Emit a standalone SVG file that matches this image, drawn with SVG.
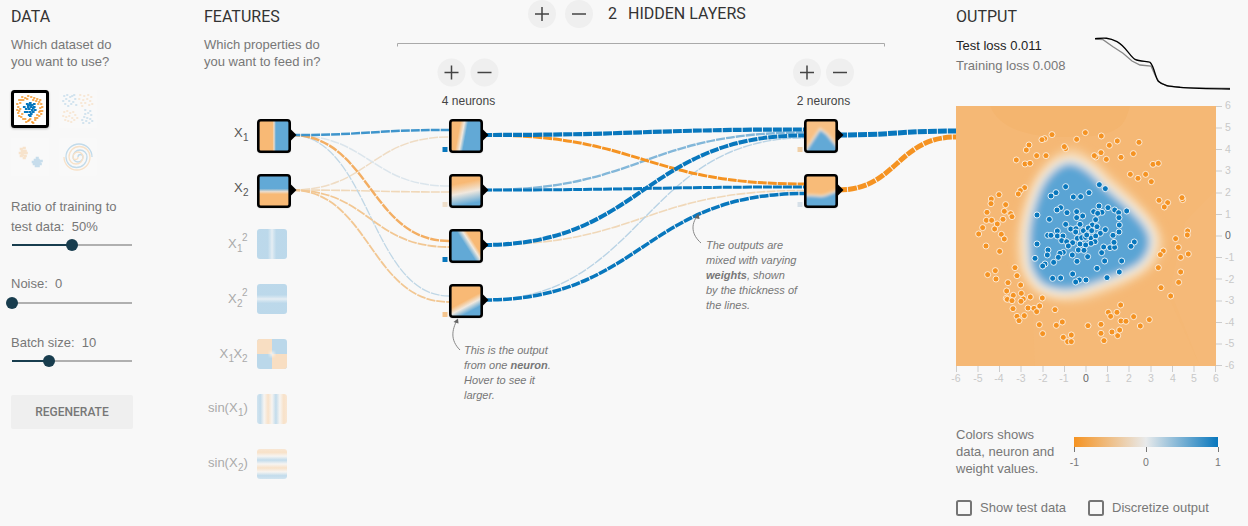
<svg xmlns="http://www.w3.org/2000/svg" width="1248" height="526" viewBox="0 0 1248 526">
<style>
text{font-family:"Liberation Sans",Arial,sans-serif;font-size:13px;fill:#777}
.h{font-family:Roboto,"Liberation Sans",sans-serif;font-size:16px;fill:#333}
.f{font-size:13px;fill:#aaa;text-anchor:start}
.fa{fill:#555}
.s{font-size:10px}
.n{font-size:12px;fill:#444;text-anchor:middle}
.note{font-size:11px;font-style:italic;fill:#777}
.ax{font-size:10.5px;fill:#c8c8c8}
.tick{stroke:#ccc;stroke-width:1}
.box{stroke:#000;stroke-width:2.6;fill:none}
.l{fill:none;stroke-dasharray:9 1}
.knob{fill:#183d4e}
.tr{stroke:#b0b0b0;stroke-width:2}
.on{stroke:#183d4e;stroke-width:2}
.btn{fill:#efefef}
.ic{stroke:#444;stroke-width:1.5;fill:none}
.cb{fill:none;stroke:#757575;stroke-width:2}
.o circle{fill:#f59322;stroke:#fff;stroke-opacity:.75;stroke-width:3;r:9px}
.b circle{fill:#0877bd;stroke:#fff;stroke-opacity:.85;stroke-width:3;r:9px}
.ann{fill:none;stroke:#888;stroke-width:1}
</style>
<defs>
<linearGradient id="gX1" x1="0" x2="1" y1="0" y2="0"><stop offset=".45" stop-color="#f8b974"/><stop offset=".5" stop-color="#ecdccb"/><stop offset=".56" stop-color="#62a9d6"/></linearGradient>
<linearGradient id="gX2" x1="0" x2="0" y1="0" y2="1"><stop offset=".42" stop-color="#62a9d6"/><stop offset=".52" stop-color="#ecdccb"/><stop offset=".6" stop-color="#f8b974"/></linearGradient>
<linearGradient id="gX1s" x1="0" x2="1" y1="0" y2="0"><stop offset=".36" stop-color="#62a9d6"/><stop offset=".46" stop-color="#a6cde6"/><stop offset=".5" stop-color="#ccdfec"/><stop offset=".54" stop-color="#a6cde6"/><stop offset=".64" stop-color="#62a9d6"/></linearGradient>
<linearGradient id="gX2s" x1="0" x2="0" y1="0" y2="1"><stop offset=".36" stop-color="#62a9d6"/><stop offset=".46" stop-color="#a6cde6"/><stop offset=".5" stop-color="#ccdfec"/><stop offset=".54" stop-color="#a6cde6"/><stop offset=".64" stop-color="#62a9d6"/></linearGradient>
<linearGradient id="gS1" x1="0" x2="1" y1="0" y2="0"><stop offset="0" stop-color="#8fc1e0"/><stop offset=".11" stop-color="#62a9d6"/><stop offset=".238" stop-color="#f4eee6"/><stop offset=".37" stop-color="#f8b974"/><stop offset=".5" stop-color="#f4eee6"/><stop offset=".63" stop-color="#62a9d6"/><stop offset=".762" stop-color="#f4eee6"/><stop offset=".89" stop-color="#f8b974"/><stop offset="1" stop-color="#f9c792"/></linearGradient>
<linearGradient id="gS2" x1="0" x2="0" y1="0" y2="1"><stop offset="0" stop-color="#f9c792"/><stop offset=".11" stop-color="#f8b974"/><stop offset=".238" stop-color="#f4eee6"/><stop offset=".37" stop-color="#62a9d6"/><stop offset=".5" stop-color="#f4eee6"/><stop offset=".63" stop-color="#f8b974"/><stop offset=".762" stop-color="#f4eee6"/><stop offset=".89" stop-color="#62a9d6"/><stop offset="1" stop-color="#8fc1e0"/></linearGradient>
<linearGradient id="gN1" gradientUnits="userSpaceOnUse" x1="456.1" y1="134.4" x2="467.9" y2="136.6"><stop offset=".15" stop-color="#f8b974"/><stop offset=".5" stop-color="#f0e8de"/><stop offset=".8" stop-color="#62a9d6"/></linearGradient>
<linearGradient id="gN2" gradientUnits="userSpaceOnUse" x1="463.6" y1="180" x2="468.4" y2="204"><stop offset=".1" stop-color="#f8b974"/><stop offset=".52" stop-color="#f0e8de"/><stop offset="1" stop-color="#62a9d6"/></linearGradient>
<linearGradient id="gN3" gradientUnits="userSpaceOnUse" x1="476.2" y1="244.3" x2="467.8" y2="249.7"><stop offset=".1" stop-color="#f8b974"/><stop offset=".45" stop-color="#f0e8de"/><stop offset=".95" stop-color="#62a9d6"/></linearGradient>
<linearGradient id="gN4" gradientUnits="userSpaceOnUse" x1="462.7" y1="300.3" x2="469.3" y2="312.7"><stop offset=".1" stop-color="#f8b974"/><stop offset=".5" stop-color="#f0e8de"/><stop offset=".95" stop-color="#62a9d6"/></linearGradient>
<linearGradient id="gBar"><stop offset="0" stop-color="#f59322"/><stop offset=".5" stop-color="#e8eaeb"/><stop offset="1" stop-color="#0877bd"/></linearGradient>
<filter id="sh" x="-20%" y="-20%" width="140%" height="140%"><feDropShadow dx="0" dy="1" stdDeviation="1" flood-color="#000" flood-opacity=".25"/></filter>
<filter id="bl1" x="-20%" y="-20%" width="140%" height="140%"><feGaussianBlur stdDeviation="1.6"/></filter>
<filter id="bl3" x="-20%" y="-20%" width="140%" height="140%"><feGaussianBlur stdDeviation="4.5"/></filter>
<clipPath id="cA"><rect x="805" y="120" width="32" height="32" rx="2"/></clipPath>
<clipPath id="cB"><rect x="805" y="175" width="32" height="32" rx="2"/></clipPath>
<clipPath id="cO"><rect x="956" y="106" width="260" height="260"/></clipPath>
<path id="tri" d="M0-5.500 5.500 0 0 5.500z" fill="#000"/>
<path id="spiral" d="M78 157A2.500 2.500 0 0 1 83 157A5 5 0 0 1 73 157A7 7 0 0 1 87 157A10.500 10.500 0 0 1 66 157A13 13 0 0 1 92 157" fill="none"/>
</defs>
<rect width="1248" height="526" fill="#f8f8f8"/>

<g id="data-panel">
<text class="h" x="11" y="22">DATA</text>
<text x="11" y="49">Which dataset do</text>
<text x="11" y="66">you want to use?</text>
</g>
<g id="dataset-circle">
<rect x="12.500" y="91.500" width="35" height="35" rx="2" fill="#fff" stroke="#000" stroke-width="3" filter="url(#sh)"/>
<path fill="none" stroke="#f59322" stroke-width="1.700" stroke-linecap="square" d="M19 100h.5M22 97h.5M25 98h.5M28 96h.5M31 97h.5M34 98h.5M37 99h.5M39 102h.5M41 104h.5M42 107h.5M40 108h.5M42 111h.5M41 114h.5M39 116h.5M37 118h.5M35 120h.5M32 122h.5M29 120h.5M26 122h.5M23 119h.5M21 117h.5M19 116h.5M18 113h.5M17 110h.5M18 107h.5M17 104h.5M20 103h.5M23 100h.5M27 99h.5M33 100h.5M38 104h.5M39 112h.5M35 118h.5M30 119h.5M22 114h.5M20 109h.5M25 119h.5M37 115h.5M40 100h.5M33 123h.5M21 100h.5M36 101h.5M40 111h.5M19 111h.5M28 121h.5"/>
<path fill="none" stroke="#0877bd" stroke-width="2.200" stroke-linecap="square" d="M27 104h.5M30 103h.5M32 105h.5M28 107h.5M31 107h.5M34 107h.5M26 109h.5M29 109h.5M32 110h.5M35 110h.5M27 112h.5M30 112h.5M33 112h.5M29 115h.5M31 114h.5M24 107h.5M34 104h.5M30 116h.5M25 112h.5M28 105h.5M33 108h.5M30 105h.5"/>
</g>
<g id="dataset-xor" opacity=".2">
<rect x="59" y="90" width="38" height="38" rx="2" fill="#fff"/>
<path fill="none" stroke="#0877bd" stroke-width="1.600" stroke-linecap="square" d="M64 96h.5M67 95h.5M70 97h.5M66 99h.5M72 96h.5M75 99h.5M63 101h.5M69 101h.5M74 95h.5M65 104h.5M71 104h.5M68 106h.5M73 102h.5M76 105h.5M85 114h.5M88 113h.5M91 115h.5M84 117h.5M87 118h.5M90 119h.5M82 120h.5M86 121h.5M92 121h.5M89 123h.5M83 123h.5M85 110h.5M90 111h.5"/>
<path fill="none" stroke="#f59322" stroke-width="1.600" stroke-linecap="square" d="M80 95h.5M84 96h.5M88 95h.5M91 97h.5M79 99h.5M83 100h.5M87 99h.5M90 101h.5M81 103h.5M85 103h.5M89 105h.5M82 106h.5M92 104h.5M64 112h.5M67 111h.5M70 113h.5M73 112h.5M63 116h.5M66 117h.5M69 116h.5M72 118h.5M75 115h.5M65 120h.5M68 121h.5M71 122h.5M74 120h.5M77 118h.5"/>
</g>
<g id="dataset-gauss" opacity=".2">
<rect x="11" y="138" width="38" height="38" rx="2" fill="#fff"/>
<path fill="none" stroke="#f59322" stroke-width="2.600" stroke-linecap="square" d="M21 149h.5M24 148h.5M22 151h.5M25 151h.5M20 153h.5M23 153h.5M26 153h.5M22 155h.5M25 156h.5M24 158h.5M21 156h.5"/>
<path fill="none" stroke="#0877bd" stroke-width="2.600" stroke-linecap="square" d="M37 158h.5M35 160h.5M38 160h.5M33 162h.5M36 162h.5M39 162h.5M41 161h.5M34 164h.5M37 164h.5M40 164h.5M36 166h.5M38 166h.5"/>
</g>
<g id="dataset-spiral" opacity=".22" stroke-width="1.300">
<rect x="59" y="138" width="38" height="38" rx="2" fill="#fff"/>
<use href="#spiral" stroke="#0877bd"/>
<use href="#spiral" stroke="#f59322" transform="rotate(180 78 157)"/>
</g>

<g id="ratio-slider">
<text x="11" y="211">Ratio of training to</text>
<text x="11" y="231" xml:space="preserve">test data:  50%</text>
<path class="tr" d="M12 245h120"/><path class="on" d="M12 245h60"/><circle class="knob" cx="72" cy="245" r="6"/>
</g>
<g id="noise-slider">
<text x="11" y="288" xml:space="preserve">Noise:  0</text>
<path class="tr" d="M12 303h120"/><circle class="knob" cx="12" cy="303" r="6"/>
</g>
<g id="batch-slider">
<text x="11" y="347" xml:space="preserve">Batch size:  10</text>
<path class="tr" d="M12 361h120"/><path class="on" d="M12 361h37"/><circle class="knob" cx="49" cy="361" r="6"/>
</g>
<g id="regenerate">
<rect class="btn" x="11" y="395" width="122" height="34" rx="2"/>
<text x="72" y="416" text-anchor="middle" style="font-family:Roboto,sans-serif;font-size:12px;font-weight:500">REGENERATE</text>
</g>

<g id="features-title">
<text class="h" x="204" y="22">FEATURES</text>
<text x="204" y="49">Which properties do</text>
<text x="204" y="66">you want to feed in?</text>
</g>

<g id="layers-control">
<circle class="btn" cx="542" cy="14" r="14"/><path class="ic" d="M535 14h14M542 7v14"/>
<circle class="btn" cx="579" cy="14" r="14"/><path class="ic" d="M572 14h14"/>
<text class="h" x="608" y="19">2</text>
<text class="h" x="628" y="19">HIDDEN LAYERS</text>
<path fill="none" stroke="#aaa" d="M397.500 46.500v-3h487v3"/>
</g>
<g id="layer1-control">
<circle class="btn" cx="451.500" cy="72.500" r="14"/><path class="ic" d="M444.500 72.500h14M451.500 65.500v14"/>
<circle class="btn" cx="484.500" cy="72.500" r="14"/><path class="ic" d="M477.500 72.500h14"/>
<text class="n" x="468.500" y="105">4 neurons</text>
</g>
<g id="layer2-control">
<circle class="btn" cx="807" cy="72.500" r="14"/><path class="ic" d="M800 72.500h14M807 65.500v14"/>
<circle class="btn" cx="840" cy="72.500" r="14"/><path class="ic" d="M833 72.500h14"/>
<text class="n" x="823.500" y="105">2 neurons</text>
</g>

<g id="connectors">
<path class="l" stroke="#efdcc4" stroke-width="1.500" d="M291 190C370 190 370 137 449 137"/>
<path class="l" stroke="#dbe5ec" stroke-width="1.500" d="M291 135C370 135 370 186 449 186"/>
<path class="l" stroke="#f0d8b9" stroke-width="1.600" d="M291 190C370 190 370 192 449 192"/>
<path class="l" stroke="#c0d7e6" stroke-width="1.300" d="M291 135C370 135 370 296 449 296"/>
<path class="l" stroke="#f2c793" stroke-width="1.800" d="M291 190C370 190 370 302 449 302"/>
<path class="l" stroke="#f2c793" stroke-width="1.800" d="M291 190C370 190 370 247 449 247"/>
<path class="l" stroke="#f3ae63" stroke-width="2.400" d="M291 135C370 135 370 241 449 241"/>
<path class="l" stroke="#3f95cc" stroke-width="2.500" d="M291 135C370 135 370 130 449 130"/>
<path class="l" stroke="#f0d8b9" stroke-width="1.600" d="M483 245C643 245 643 190.500 804 190.500"/>
<path class="l" stroke="#b9d3e5" stroke-width="1.400" d="M483 300C643 300 643 138 804 138"/>
<path class="l" stroke="#83b7d9" stroke-width="2.400" d="M483 190C643 190 643 132.500 804 132.500"/>
<path class="l" stroke="#f59322" stroke-width="3" d="M483 135C643 135 643 184 804 184"/>
<path class="l" stroke="#0877bd" stroke-width="3" d="M483 190C643 190 643 187 804 187"/>
<path class="l" stroke="#0877bd" stroke-width="4" d="M483 245C643 245 643 135.500 804 135.500"/>
<path class="l" stroke="#0877bd" stroke-width="3.500" d="M483 300C643 300 643 193.500 804 193.500"/>
<path class="l" stroke="#0877bd" stroke-width="4.200" d="M483 135C643 135 643 129.500 804 129.500"/>
<path class="l" stroke="#f59322" stroke-width="5" d="M838 190C897 190 897 137 956 137"/>
<path class="l" stroke="#0877bd" stroke-width="5" d="M838 135C897 135 897 131 956 131"/>
</g>

<g id="feature-x1">
<text class="f fa" x="234" y="137">X<tspan class="s" x="243" y="141">1</tspan></text>
<rect x="258.300" y="120.300" width="31.400" height="31.400" rx="2.500" fill="url(#gX1)" filter="url(#sh)"/><rect class="box" x="258.300" y="120.300" width="31.400" height="31.400" rx="2.500"/>
<use href="#tri" x="291" y="135"/>
</g>
<g id="feature-x2">
<text class="f fa" x="234" y="192">X<tspan class="s" x="243" y="196">2</tspan></text>
<rect x="258.300" y="175.300" width="31.400" height="31.400" rx="2.500" fill="url(#gX2)" filter="url(#sh)"/><rect class="box" x="258.300" y="175.300" width="31.400" height="31.400" rx="2.500"/>
<use href="#tri" x="291" y="190"/>
</g>
<g id="feature-x1sq">
<text class="f" x="228" y="248">X<tspan class="s" x="237" y="252">1</tspan><tspan class="s" x="242" y="241">2</tspan></text>
<rect x="257" y="229" width="30" height="30" rx="3" fill="url(#gX1s)" opacity=".4"/>
</g>
<g id="feature-x2sq">
<text class="f" x="228" y="303">X<tspan class="s" x="237" y="307">2</tspan><tspan class="s" x="242" y="296">2</tspan></text>
<rect x="257" y="284" width="30" height="30" rx="3" fill="url(#gX2s)" opacity=".4"/>
</g>
<g id="feature-x1x2">
<text class="f" x="219.500" y="358">X<tspan class="s" x="228.500" y="362">1</tspan><tspan x="233.500" y="358">X</tspan><tspan class="s" x="242" y="362">2</tspan></text>
<g opacity=".4"><rect x="257" y="339" width="30" height="30" rx="3" fill="#62a9d6"/><path d="M260 339h12v15h-15v-12a3 3 0 0 1 3-3zM272 354h15v12a3 3 0 0 1-3 3h-12z" fill="#f8b974"/><circle cx="272" cy="354" r="2.500" fill="#f4eee6" filter="url(#bl1)"/></g>
</g>
<g id="feature-sinx1">
<text class="f" x="208" y="412">sin(X<tspan class="s" x="238" y="416">1</tspan><tspan x="243.500" y="412">)</tspan></text>
<rect x="257" y="394" width="30" height="30" rx="3" fill="url(#gS1)" opacity=".36"/>
</g>
<g id="feature-sinx2">
<text class="f" x="208" y="467">sin(X<tspan class="s" x="238" y="471">2</tspan><tspan x="243.500" y="467">)</tspan></text>
<rect x="257" y="449" width="30" height="30" rx="3" fill="url(#gS2)" opacity=".36"/>
</g>

<g id="neuron-1-1">
<rect x="442.500" y="147" width="5" height="5" fill="#0877bd"/>
<rect x="450.300" y="120.300" width="31.400" height="31.400" rx="2.500" fill="url(#gN1)" filter="url(#sh)"/><rect class="box" x="450.300" y="120.300" width="31.400" height="31.400" rx="2.500"/>
<use href="#tri" x="483" y="135"/>
</g>
<g id="neuron-1-2">
<rect x="442.500" y="202" width="5" height="5" fill="#efdfcb"/>
<rect x="450.300" y="175.300" width="31.400" height="31.400" rx="2.500" fill="url(#gN2)" filter="url(#sh)"/><rect class="box" x="450.300" y="175.300" width="31.400" height="31.400" rx="2.500"/>
<use href="#tri" x="483" y="190"/>
</g>
<g id="neuron-1-3">
<rect x="442.500" y="257" width="5" height="5" fill="#0877bd"/>
<rect x="450.300" y="230.300" width="31.400" height="31.400" rx="2.500" fill="url(#gN3)" filter="url(#sh)"/><rect class="box" x="450.300" y="230.300" width="31.400" height="31.400" rx="2.500"/>
<use href="#tri" x="483" y="245"/>
</g>
<g id="neuron-1-4">
<rect x="442.500" y="312" width="5" height="5" fill="#f5c58e"/>
<rect x="450.300" y="285.300" width="31.400" height="31.400" rx="2.500" fill="url(#gN4)" filter="url(#sh)"/><rect class="box" x="450.300" y="285.300" width="31.400" height="31.400" rx="2.500"/>
<use href="#tri" x="483" y="300"/>
</g>
<g id="neuron-2-1">
<rect x="797.500" y="147" width="5" height="5" fill="#f0cfa6"/>
<rect x="805.300" y="120.300" width="31.400" height="31.400" rx="2.500" fill="#f8c084" filter="url(#sh)"/>
<g clip-path="url(#cA)"><path d="M802 156 812 141 820 129 827 134 842 152V156z" fill="#62a9d6" stroke="#eee3d6" stroke-width="2" filter="url(#bl1)"/></g>
<rect class="box" x="805.300" y="120.300" width="31.400" height="31.400" rx="2.500"/>
<use href="#tri" x="838" y="135"/>
</g>
<g id="neuron-2-2">
<rect x="797.500" y="202" width="5" height="5" fill="#d6e0e8"/>
<rect x="805.300" y="175.300" width="31.400" height="31.400" rx="2.500" fill="#f8bb78" filter="url(#sh)"/>
<g clip-path="url(#cB)"><path d="M803 195C812 195 815 196 821 196S832 192 840 190V212H803z" fill="#62a9d6" stroke="#eee3d6" stroke-width="2" filter="url(#bl1)"/></g>
<rect class="box" x="805.300" y="175.300" width="31.400" height="31.400" rx="2.500"/>
<use href="#tri" x="838" y="190"/>
</g>

<g id="output-title">
<text class="h" x="956" y="22">OUTPUT</text>
<text x="956" y="50" style="fill:#222">Test loss 0.011</text>
<text x="956" y="70">Training loss 0.008</text>
<polyline fill="none" stroke="#888" stroke-width="1.300" points="1095,39 1103,39.700 1113,46.700 1123,53.300 1132,61 1140,65 1151,66 1155,75 1159,81.700 1167,86 1183,87.700 1230,88.300"/>
<path fill="none" stroke="#000" stroke-width="1.300" d="M1095 38.700C1103 38 1108 37 1117 41.700S1130 57 1135 59.300 1148 61 1150 62.300C1154 66 1155 76 1158 81 1163 86 1170 86.500 1180 87.300S1200 88.500 1230 89"/>
</g>

<g id="heatmap">
<rect x="956" y="106" width="260" height="260" fill="#f5b875"/>
<g clip-path="url(#cO)">
<path d="M990 106C1000 130 1030 138 1075 137S1125 125 1130 106z" fill="#f4b56f"/>
<path d="M1216 190 1185 222 1170 290 1200 366H1216z" fill="#f6bc7e" opacity=".4"/>
<path d="M1032 300 1035 366H1200L1170 300z" fill="#f6bb7b" opacity=".4"/>
<path d="M1075 148C1090 153 1105 170 1125 188 1145 208 1168 230 1163 250 1158 272 1125 288 1090 299 1060 307 1033 298 1022 276 1012 255 1015 225 1027 195 1037 165 1060 146 1075 148z" fill="#f6cf9f" filter="url(#bl3)"/>
<path d="M1072 160C1085 163 1095 172 1103 182L1127 203C1140 215 1152 227 1153 240 1153 252 1148 260 1138 268L1120 277 1090 288C1078 292 1070 293 1063 293 1050 292 1042 289 1037 283 1030 274 1027 266 1027 260L1026 240C1026 222 1031 205 1037 190 1042 178 1050 170 1055 166 1060 162 1066 160 1072 160z" fill="#5aa4d4" stroke="#f7f3ec" stroke-width="6" filter="url(#bl3)"/>
</g>
</g>

<g id="points">
<g class="o" transform="translate(940 0) scale(.3333)">
<circle cx="336" cy="404"/><circle cx="314" cy="416"/><circle cx="306" cy="419"/><circle cx="267" cy="435"/><circle cx="259" cy="450"/><circle cx="290" cy="467"/><circle cx="318" cy="467"/><circle cx="229" cy="480"/><circle cx="255" cy="492"/><circle cx="270" cy="490"/><circle cx="377" cy="446"/><circle cx="373" cy="440"/><circle cx="410" cy="418"/><circle cx="436" cy="398"/><circle cx="484" cy="408"/><circle cx="508" cy="436"/><circle cx="532" cy="423"/><circle cx="597" cy="427"/><circle cx="468" cy="471"/><circle cx="463" cy="467"/><circle cx="483" cy="458"/><circle cx="499" cy="478"/><circle cx="543" cy="472"/><circle cx="580" cy="461"/><circle cx="639" cy="493"/><circle cx="655" cy="490"/><circle cx="571" cy="523"/><circle cx="594" cy="535"/><circle cx="617" cy="523"/><circle cx="634" cy="545"/><circle cx="657" cy="601"/><circle cx="683" cy="608"/><circle cx="673" cy="621"/><circle cx="728" cy="599"/><circle cx="726" cy="593"/><circle cx="254" cy="563"/><circle cx="241" cy="572"/><circle cx="235" cy="582"/><circle cx="177" cy="584"/><circle cx="154" cy="597"/><circle cx="153" cy="611"/><circle cx="197" cy="614"/><circle cx="141" cy="637"/><circle cx="193" cy="634"/><circle cx="212" cy="641"/><circle cx="216" cy="650"/><circle cx="139" cy="661"/><circle cx="155" cy="661"/><circle cx="189" cy="658"/><circle cx="172" cy="672"/><circle cx="164" cy="687"/><circle cx="128" cy="683"/><circle cx="116" cy="702"/><circle cx="184" cy="703"/><circle cx="193" cy="717"/><circle cx="743" cy="693"/><circle cx="742" cy="705"/><circle cx="707" cy="716"/>
</g>
<g class="o" transform="translate(940 230) scale(.3333)">
<circle cx="138" cy="48"/><circle cx="179" cy="64"/><circle cx="715" cy="52"/><circle cx="670" cy="63"/><circle cx="661" cy="74"/><circle cx="722" cy="82"/><circle cx="745" cy="72"/><circle cx="225" cy="113"/><circle cx="166" cy="122"/><circle cx="143" cy="134"/><circle cx="168" cy="147"/><circle cx="231" cy="137"/><circle cx="204" cy="158"/><circle cx="242" cy="165"/><circle cx="200" cy="183"/><circle cx="244" cy="190"/><circle cx="220" cy="196"/><circle cx="199" cy="205"/><circle cx="202" cy="208"/><circle cx="250" cy="207"/><circle cx="243" cy="214"/><circle cx="216" cy="212"/><circle cx="271" cy="201"/><circle cx="307" cy="204"/><circle cx="219" cy="236"/><circle cx="264" cy="234"/><circle cx="282" cy="235"/><circle cx="299" cy="228"/><circle cx="290" cy="245"/><circle cx="345" cy="239"/><circle cx="231" cy="259"/><circle cx="253" cy="257"/><circle cx="237" cy="272"/><circle cx="298" cy="284"/><circle cx="349" cy="286"/><circle cx="367" cy="276"/><circle cx="308" cy="311"/><circle cx="370" cy="322"/><circle cx="394" cy="315"/><circle cx="383" cy="335"/><circle cx="394" cy="335"/><circle cx="444" cy="287"/><circle cx="483" cy="283"/><circle cx="483" cy="310"/><circle cx="492" cy="332"/><circle cx="516" cy="306"/><circle cx="533" cy="317"/><circle cx="539" cy="300"/><circle cx="505" cy="247"/><circle cx="512" cy="259"/><circle cx="531" cy="247"/><circle cx="542" cy="225"/><circle cx="543" cy="273"/><circle cx="558" cy="274"/><circle cx="581" cy="260"/><circle cx="601" cy="288"/><circle cx="628" cy="269"/><circle cx="655" cy="113"/><circle cx="722" cy="126"/><circle cx="716" cy="157"/><circle cx="663" cy="173"/><circle cx="692" cy="198"/>
</g>
<g class="b" transform="translate(1040 170) scale(.3333)">
<circle cx="-9" cy="135"/><circle cx="-15" cy="265"/><circle cx="-9" cy="222"/>
<circle cx="178" cy="44"/><circle cx="196" cy="56"/><circle cx="77" cy="50"/><circle cx="48" cy="68"/><circle cx="33" cy="78"/><circle cx="147" cy="68"/><circle cx="100" cy="81"/><circle cx="122" cy="80"/><circle cx="62" cy="113"/><circle cx="51" cy="120"/><circle cx="81" cy="128"/><circle cx="110" cy="125"/><circle cx="110" cy="143"/><circle cx="128" cy="138"/><circle cx="161" cy="125"/><circle cx="177" cy="108"/><circle cx="204" cy="113"/><circle cx="186" cy="127"/><circle cx="173" cy="130"/><circle cx="224" cy="120"/><circle cx="236" cy="128"/><circle cx="260" cy="123"/><circle cx="28" cy="148"/><circle cx="167" cy="149"/><circle cx="237" cy="143"/><circle cx="238" cy="165"/><circle cx="77" cy="163"/><circle cx="120" cy="163"/><circle cx="157" cy="165"/><circle cx="171" cy="170"/><circle cx="92" cy="177"/><circle cx="108" cy="176"/><circle cx="107" cy="186"/><circle cx="130" cy="182"/><circle cx="145" cy="174"/><circle cx="155" cy="182"/><circle cx="196" cy="179"/><circle cx="181" cy="190"/><circle cx="237" cy="186"/><circle cx="219" cy="196"/><circle cx="23" cy="196"/><circle cx="33" cy="196"/><circle cx="52" cy="183"/><circle cx="52" cy="198"/><circle cx="69" cy="198"/><circle cx="65" cy="212"/><circle cx="80" cy="215"/><circle cx="98" cy="218"/><circle cx="112" cy="205"/><circle cx="125" cy="203"/><circle cx="137" cy="202"/><circle cx="153" cy="204"/><circle cx="167" cy="198"/><circle cx="140" cy="195"/><circle cx="165" cy="215"/><circle cx="153" cy="220"/><circle cx="120" cy="222"/><circle cx="137" cy="225"/><circle cx="85" cy="228"/><circle cx="115" cy="240"/><circle cx="132" cy="241"/><circle cx="191" cy="231"/><circle cx="210" cy="233"/><circle cx="224" cy="232"/><circle cx="222" cy="217"/><circle cx="283" cy="216"/><circle cx="273" cy="229"/><circle cx="185" cy="248"/><circle cx="24" cy="240"/><circle cx="22" cy="255"/><circle cx="70" cy="247"/><circle cx="60" cy="250"/><circle cx="55" cy="262"/><circle cx="41" cy="277"/><circle cx="97" cy="255"/><circle cx="143" cy="260"/><circle cx="111" cy="274"/><circle cx="245" cy="273"/><circle cx="194" cy="273"/><circle cx="15" cy="282"/><circle cx="8" cy="288"/><circle cx="171" cy="295"/><circle cx="238" cy="306"/><circle cx="38" cy="325"/><circle cx="62" cy="324"/><circle cx="98" cy="312"/><circle cx="118" cy="330"/><circle cx="107" cy="336"/><circle cx="138" cy="330"/><circle cx="201" cy="323"/>
</g>
</g>

<g id="axes">
<path class="tick" d="M1216 106.500h6M1216 128h6M1216 149.500h6M1216 171h6M1216 193h6M1216 214.500h6M1216 236h6M1216 257.500h6M1216 279h6M1216 301h6M1216 322.500h6M1216 344h6M1216 365.500h6M956.500 366v6M978 366v6M999.500 366v6M1021 366v6M1043 366v6M1064.500 366v6M1086 366v6M1107.500 366v6M1129 366v6M1151 366v6M1172.500 366v6M1194 366v6M1215.500 366v6"/>
<g>
<text class="ax" x="1225" y="109">6</text><text class="ax" x="1225" y="131">5</text><text class="ax" x="1225" y="153">4</text><text class="ax" x="1225" y="174">3</text><text class="ax" x="1225" y="196">2</text><text class="ax" x="1225" y="218">1</text><text class="ax" x="1225" y="239" style="fill:#666">0</text><text class="ax" x="1225" y="261">-1</text><text class="ax" x="1225" y="283">-2</text><text class="ax" x="1225" y="304">-3</text><text class="ax" x="1225" y="326">-4</text><text class="ax" x="1225" y="347">-5</text><text class="ax" x="1225" y="369">-6</text>
</g>
<g text-anchor="middle">
<text class="ax" x="956" y="382">-6</text><text class="ax" x="978" y="382">-5</text><text class="ax" x="999" y="382">-4</text><text class="ax" x="1021" y="382">-3</text><text class="ax" x="1043" y="382">-2</text><text class="ax" x="1064" y="382">-1</text><text class="ax" x="1086" y="382" style="fill:#666">0</text><text class="ax" x="1108" y="382">1</text><text class="ax" x="1129" y="382">2</text><text class="ax" x="1151" y="382">3</text><text class="ax" x="1173" y="382">4</text><text class="ax" x="1194" y="382">5</text><text class="ax" x="1216" y="382">6</text>
</g>
</g>

<g id="note-neuron">
<path class="ann" d="M457 320C452 330 450 340 460 350"/>
<path d="M458 318.500 453.500 322 458.500 323.500z" fill="#666"/>
<text class="note" x="464" y="354">This is the output</text>
<text class="note" x="464" y="369">from one <tspan font-weight="bold">neuron</tspan>.</text>
<text class="note" x="464" y="384">Hover to see it</text>
<text class="note" x="464" y="399">larger.</text>
</g>
<g id="note-weights">
<path class="ann" d="M698 215C690 225 692 235 701 243"/>
<path d="M698.500 213.500 694.500 218 699.500 219z" fill="#666"/>
<text class="note" x="706" y="249">The outputs are</text>
<text class="note" x="706" y="264">mixed with varying</text>
<text class="note" x="706" y="279"><tspan font-weight="bold">weights</tspan>, shown</text>
<text class="note" x="706" y="294">by the thickness of</text>
<text class="note" x="706" y="309">the lines.</text>
</g>

<g id="legend">
<text x="956" y="439">Colors shows</text>
<text x="956" y="456">data, neuron and</text>
<text x="956" y="473">weight values.</text>
<rect x="1074" y="437" width="144" height="10" fill="url(#gBar)"/>
<path stroke="#777" d="M1074.500 447v5M1146.500 447v5M1218.500 447v5"/>
<g text-anchor="middle"><text x="1074.500" y="466" style="font-size:10.500px">-1</text><text x="1146" y="466" style="font-size:10.500px">0</text><text x="1218" y="466" style="font-size:10.500px">1</text></g>
</g>
<g id="show-test-data">
<rect class="cb" x="957" y="501" width="14" height="14" rx="1.500"/>
<text x="980" y="512">Show test data</text>
</g>
<g id="discretize-output">
<rect class="cb" x="1089" y="501" width="14" height="14" rx="1.500"/>
<text x="1112" y="512">Discretize output</text>
</g>
</svg>
